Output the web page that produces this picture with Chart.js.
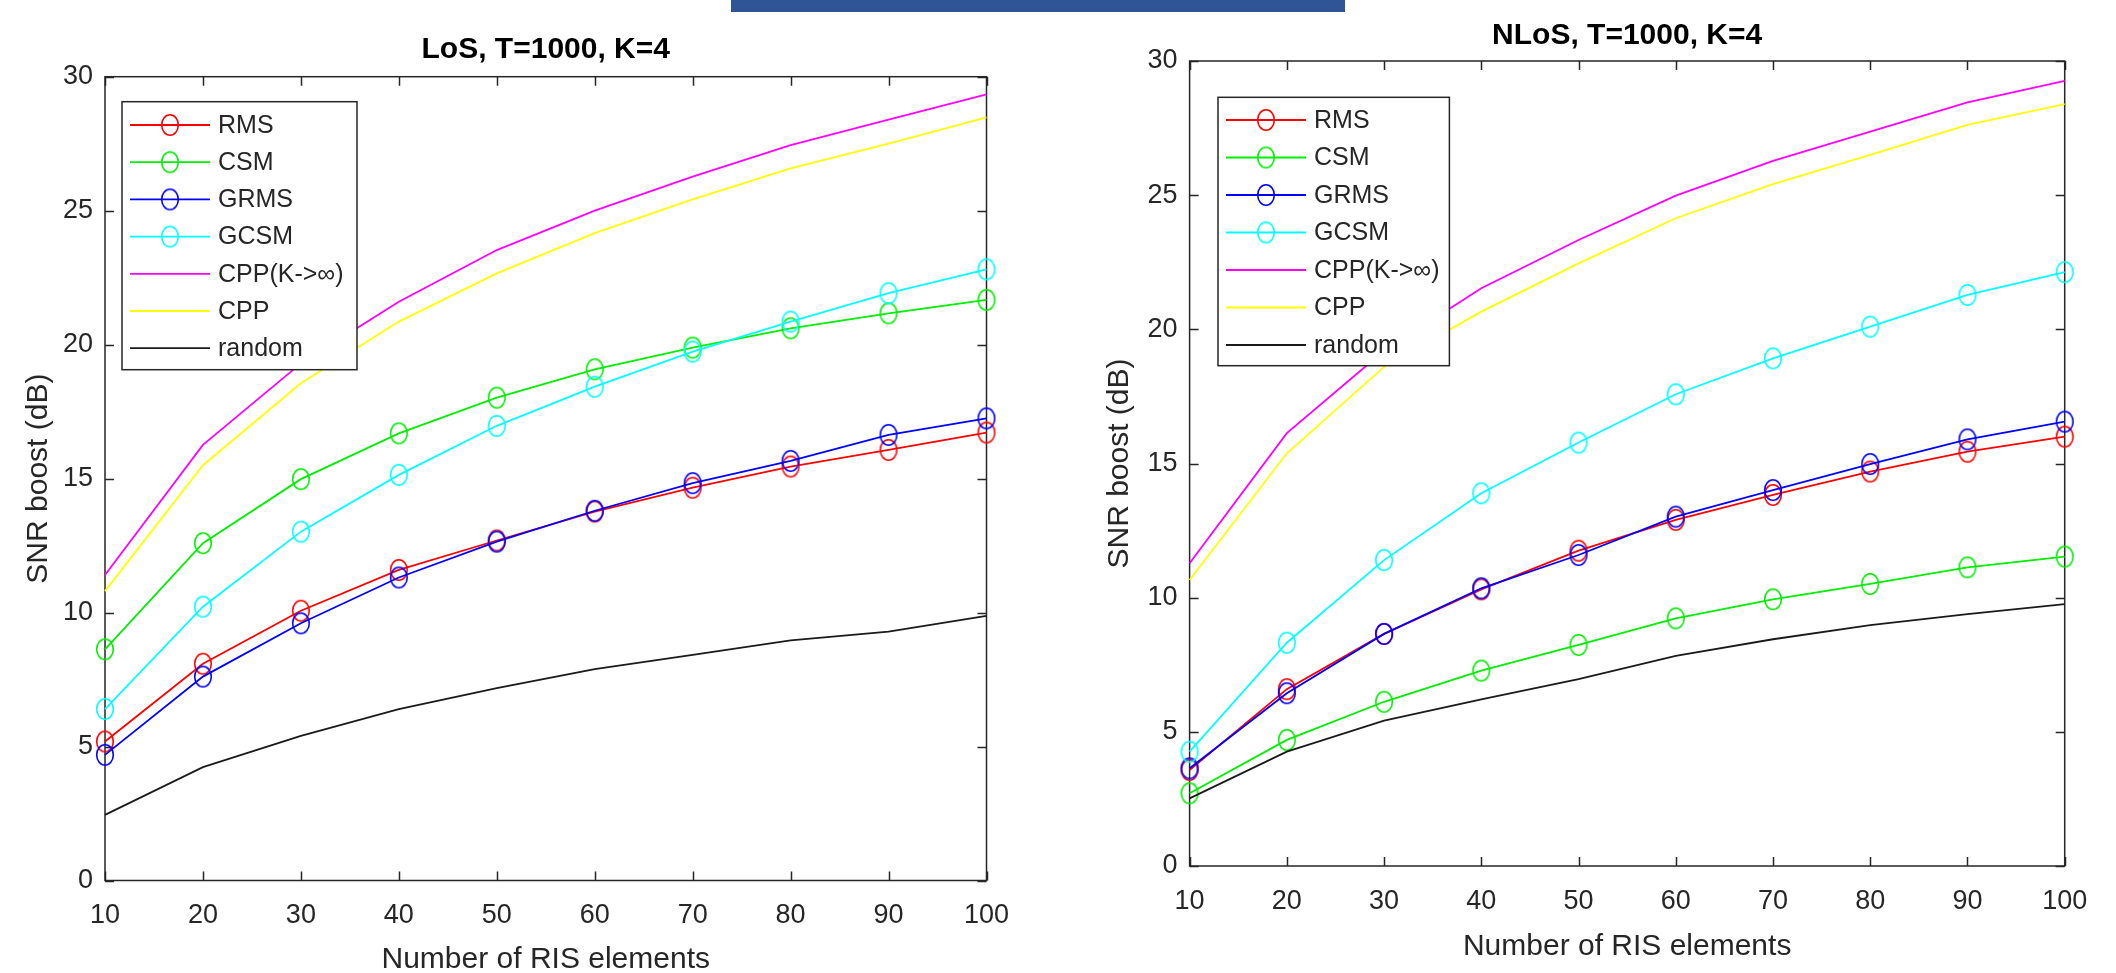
<!DOCTYPE html>
<html>
<head>
<meta charset="utf-8">
<script src="https://cdn.jsdelivr.net/npm/chart.js@4.4.1/dist/chart.umd.min.js"></script>
<style>
  html, body { margin: 0; padding: 0; background: #fff; overflow: hidden; }
  body { width: 2116px; height: 973px; position: relative; }
  canvas { position: absolute; top: 0; }
  #bar { position: absolute; left: 731px; top: 0; width: 614px; height: 12px; background: #2F5597; z-index: 2; }
</style>
</head>
<body>
<div id="bar"></div>
<canvas id="chartLoS" width="1058" height="990" style="left:0"></canvas>
<canvas id="chartNLoS" width="1058" height="990" style="left:1058px"></canvas>
<script>
const risElements = [10, 20, 30, 40, 50, 60, 70, 80, 90, 100];
const yTicks = [0, 5, 10, 15, 20, 25, 30];

const seriesNames = ['RMS', 'CSM', 'GRMS', 'GCSM', 'CPP(K->\u221E)', 'CPP', 'random'];
const seriesColors = ['#ff0000', '#00ee00', '#0000ff', '#00ffff', '#ff00ff', '#ffff00', '#1a1a1a'];
const seriesMarkers = [true, true, true, true, false, false, false];

// LoS, T=1000, K=4
const losRMS    = [5.19, 8.09, 10.07, 11.59, 12.69, 13.77, 14.66, 15.45, 16.07, 16.72];
const losCSM    = [8.63, 12.59, 14.98, 16.69, 18.02, 19.08, 19.89, 20.61, 21.17, 21.67];
const losGRMS   = [4.69, 7.61, 9.60, 11.31, 12.65, 13.80, 14.83, 15.66, 16.63, 17.25];
const losGCSM   = [6.40, 10.22, 13.02, 15.14, 16.97, 18.43, 19.74, 20.86, 21.92, 22.81];
const losCPPinf = [11.40, 16.26, 19.30, 21.60, 23.53, 25.00, 26.27, 27.45, 28.40, 29.34];
const losCPP    = [10.80, 15.50, 18.56, 20.86, 22.66, 24.16, 25.42, 26.58, 27.50, 28.48];
const losRandom = [2.45, 4.23, 5.40, 6.40, 7.18, 7.89, 8.42, 8.96, 9.29, 9.88];

// NLoS, T=1000, K=4
const nlosRMS    = [3.58, 6.59, 8.65, 10.31, 11.75, 12.90, 13.83, 14.70, 15.44, 16.00];
const nlosCSM    = [2.71, 4.70, 6.12, 7.28, 8.24, 9.23, 9.94, 10.51, 11.13, 11.53];
const nlosGRMS   = [3.64, 6.44, 8.65, 10.35, 11.59, 13.02, 14.01, 14.98, 15.90, 16.56];
const nlosGCSM   = [4.26, 8.32, 11.40, 13.89, 15.78, 17.58, 18.92, 20.10, 21.28, 22.13];
const nlosCPPinf = [11.28, 16.13, 19.20, 21.53, 23.33, 24.98, 26.28, 27.37, 28.46, 29.26];
const nlosCPP    = [10.66, 15.38, 18.60, 20.66, 22.46, 24.14, 25.41, 26.50, 27.62, 28.39];
const nlosRandom = [2.52, 4.26, 5.42, 6.21, 6.96, 7.83, 8.45, 8.98, 9.39, 9.76];

Chart.defaults.font.family = '"Liberation Sans", Arial, sans-serif';
Chart.defaults.color = '#262626';

const axisColor = '#262626';

// the circles in the figure are a bit taller than wide
function ellipseMarker(color) {
  const c = document.createElement('canvas');
  c.width = 22;
  c.height = 26;
  const g = c.getContext('2d');
  g.strokeStyle = color;
  g.lineWidth = 1.6;
  g.beginPath();
  g.ellipse(11, 13, 8.3, 10.2, 0, 0, Math.PI * 2);
  g.stroke();
  return c;
}
const markerImages = seriesColors.map(ellipseMarker);

// matlab style box with inward ticks on all four sides
const matlabFrame = {
  id: 'matlabFrame',
  beforeDatasetsDraw(chart) {
    const { ctx, chartArea: a, scales: { x, y } } = chart;
    ctx.save();
    ctx.strokeStyle = axisColor;
    ctx.lineWidth = 1.5;
    ctx.strokeRect(a.left, a.top, a.right - a.left, a.bottom - a.top);
    ctx.beginPath();
    x.ticks.forEach(t => {
      const px = Math.round(x.getPixelForValue(t.value)) + 0.5;
      ctx.moveTo(px, a.bottom); ctx.lineTo(px, a.bottom - 9);
      ctx.moveTo(px, a.top); ctx.lineTo(px, a.top + 9);
    });
    y.ticks.forEach(t => {
      const py = Math.round(y.getPixelForValue(t.value)) + 0.5;
      ctx.moveTo(a.left, py); ctx.lineTo(a.left + 9, py);
      ctx.moveTo(a.right, py); ctx.lineTo(a.right - 9, py);
    });
    ctx.stroke();
    ctx.restore();
  }
};

// legend box in the upper left of the plot area
const boxLegend = {
  id: 'boxLegend',
  afterDatasetsDraw(chart, args, opts) {
    const { ctx, chartArea: a } = chart;
    const left = a.left + opts.dx;
    const top = a.top + opts.dy;
    ctx.save();
    ctx.fillStyle = '#fff';
    ctx.fillRect(left, top, opts.width, opts.height);
    ctx.strokeStyle = axisColor;
    ctx.lineWidth = 1.5;
    ctx.strokeRect(left, top, opts.width, opts.height);
    ctx.font = '25px "Liberation Sans", Arial, sans-serif';
    ctx.textBaseline = 'middle';
    chart.data.datasets.forEach((ds, i) => {
      const cy = top + opts.first + i * opts.step;
      ctx.strokeStyle = ds.borderColor;
      ctx.lineWidth = 1.8;
      ctx.beginPath();
      ctx.moveTo(left + 8, cy);
      ctx.lineTo(left + 88, cy);
      ctx.stroke();
      if (ds.pointRadius > 0) {
        const img = ds.pointStyle;
        ctx.drawImage(img, left + 48 - img.width / 2, cy - img.height / 2);
      }
      ctx.fillStyle = axisColor;
      ctx.fillText(ds.label, left + 96, cy + 1);
    });
    ctx.restore();
  }
};

function makeChart(canvasId, title, series, lay) {
  const datasets = series.map((vals, i) => ({
    label: seriesNames[i],
    data: risElements.map((n, j) => ({ x: n, y: vals[j] })),
    borderColor: seriesColors[i],
    borderWidth: 1.8,
    pointRadius: seriesMarkers[i] ? 9 : 0,
    pointStyle: markerImages[i],
    tension: 0,
    clip: false,
    order: series.length - i
  }));

  new Chart(document.getElementById(canvasId), {
    type: 'line',
    data: { datasets },
    options: {
      responsive: false,
      animation: false,
      events: [],
      layout: { padding: { left: 0, top: 0, bottom: 0, right: lay.padRight } },
      scales: {
        x: {
          type: 'linear',
          min: 10,
          max: 100,
          grid: { display: false, drawTicks: false },
          border: { display: false },
          ticks: {
            stepSize: 10,
            autoSkip: false,
            maxRotation: 0,
            padding: lay.xTickPad,
            font: { size: 27 },
            color: axisColor
          },
          title: {
            display: true,
            text: 'Number of RIS elements',
            font: { size: 30 },
            color: axisColor,
            padding: { top: 0, bottom: lay.xTitlePad }
          },
          afterFit(s) { s.height = lay.xHeight; }
        },
        y: {
          min: yTicks[0],
          max: yTicks[yTicks.length - 1],
          grid: { display: false, drawTicks: false },
          border: { display: false },
          ticks: {
            stepSize: 5,
            padding: 12,
            font: { size: 27 },
            color: axisColor
          },
          title: {
            display: true,
            text: 'SNR boost (dB)',
            font: { size: 30 },
            color: axisColor,
            padding: { top: lay.yTitlePad, bottom: 0 }
          },
          afterFit(s) { s.width = lay.yWidth; }
        }
      },
      plugins: {
        legend: { display: false },
        tooltip: { enabled: false },
        title: {
          display: true,
          text: title,
          fullSize: false,
          color: '#000',
          font: { size: 30, weight: 'bold' },
          padding: { top: lay.titleTop, bottom: lay.titleBottom }
        },
        boxLegend: lay.legend
      }
    },
    plugins: [matlabFrame, boxLegend]
  });
}

makeChart('chartLoS', 'LoS, T=1000, K=4',
  [losRMS, losCSM, losGRMS, losGCSM, losCPPinf, losCPP, losRandom],
  {
    yWidth: 105, padRight: 71.5, xHeight: 109.5, xTickPad: 18.5, xTitlePad: 12,
    yTitlePad: 20.5, titleTop: 32, titleBottom: 8.7,
    legend: { dx: 17, dy: 25, width: 235, height: 268, first: 23.3, step: 37.2 }
  });

makeChart('chartNLoS', 'NLoS, T=1000, K=4',
  [nlosRMS, nlosCSM, nlosGRMS, nlosGCSM, nlosCPPinf, nlosCPP, nlosRandom],
  {
    yWidth: 131.6, padRight: 51.3, xHeight: 124, xTickPad: 19, xTitlePad: 25.5,
    yTitlePad: 44, titleTop: 18, titleBottom: 7,
    legend: { dx: 28.4, dy: 36.3, width: 231.4, height: 268.4, first: 22.7, step: 37.5 }
  });
</script>
</body>
</html>
